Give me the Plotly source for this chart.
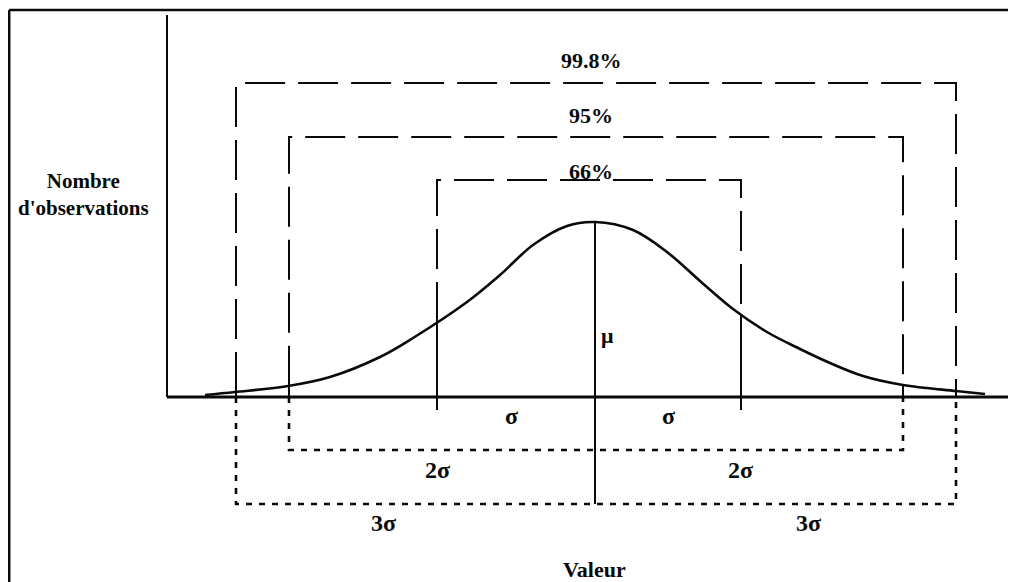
import numpy as np
import plotly.graph_objects as go

# ---- data (diagram units: x = value position, y = height above baseline) ----
curve_x = [205, 235, 288, 330, 380, 413, 467, 500, 533, 567, 595,
           633, 667, 700, 733, 767, 800, 830, 863, 903, 956, 985]
curve_y = [2, 5, 11, 20, 40, 59, 95, 122, 152, 171, 175,
           167, 145, 116, 88, 65, 48, 34, 21, 12, 6, 3]

mu = 595
bound_left = [437, 289, 236]      # μ-σ, μ-2σ, μ-3σ
bound_right = [741, 903, 956]     # μ+σ, μ+2σ, μ+3σ
pct_labels = ["66%", "95%", "99.8%"]
box_top = [217, 260, 314]         # height of the dashed boxes
lower_depth = [None, -53, -107]   # depth of the dotted brackets (2σ, 3σ)
sigma_labels = ["σ", "2σ", "3σ"]

x_label = "Valeur"
y_label = "Nombre<br>d'observations"

axis_start = 167
y_axis_top = 382
# the page puts the figure 8px from the top-left corner
x_range = [8, 1016]
y_range = [-185, 389]

FONT = "Liberation Serif"
INK = "#0a0a0a"

fig = go.Figure()

def seg(xs, ys, dash="solid", width=2.2):
    fig.add_trace(go.Scatter(x=xs, y=ys, mode="lines", hoverinfo="skip",
                             line=dict(color=INK, width=width, dash=dash),
                             showlegend=False))

def curve_h(x):
    return float(np.interp(x, curve_x, curve_y))

# axes of the diagram
seg([axis_start, x_range[1]], [0, 0], width=3)
seg([axis_start, axis_start], [0, y_axis_top], width=2)

# normal curve
fig.add_trace(go.Scatter(x=curve_x, y=curve_y, mode="lines", line_shape="spline",
                         line_smoothing=1.0, hoverinfo="skip", showlegend=False,
                         line=dict(color=INK, width=2.6)))

# dashed percentage boxes
for xl, xr, top in zip(bound_left, bound_right, box_top):
    seg([xl, xl, xr, xr], [curve_h(xl), top, top, curve_h(xr)], dash="40px,13px", width=2)

# σ lines (solid, from the curve to just under the axis)
for x in (bound_left[0], bound_right[0]):
    seg([x, x], [curve_h(x), -13], width=2)

# 2σ / 3σ: short solid part from the curve to the axis
for i in (1, 2):
    for x in (bound_left[i], bound_right[i]):
        seg([x, x], [curve_h(x), 0], width=2)

# dotted brackets below the axis
for i in (1, 2):
    xl, xr, d = bound_left[i], bound_right[i], lower_depth[i]
    seg([xl, xl, xr, xr], [0, d, d, 0], dash="6px,7px", width=2.6)

# μ line
seg([mu, mu], [max(curve_y), lower_depth[2]], width=2)

# ---- text ----
ann = []
label_offset = [9, 22, 23]
for lbl, top, off in zip(pct_labels, box_top, label_offset):
    ann.append(dict(x=mu - 4, y=top + off, text=f"<b>{lbl}</b>", size=22))

sig_pos = [((bound_left[0] + mu) / 2 - 5, (bound_right[0] + mu) / 2, -19),
           ((bound_left[1] + mu) / 2 - 5, (bound_right[1] + mu) / 2 - 9, -73),
           ((bound_left[2] + mu) / 2 - 32, (bound_right[2] + mu) / 2 + 33, -126)]
for lbl, (xl, xr, yy) in zip(sigma_labels, sig_pos):
    ann.append(dict(x=xl, y=yy, text=f"<b>{lbl}</b>", size=24))
    ann.append(dict(x=xr, y=yy, text=f"<b>{lbl}</b>", size=24))
ann.append(dict(x=mu + 12, y=62, text="<b>μ</b>", size=22))
ann.append(dict(x=mu - 1, y=-172, text=f"<b>{x_label}</b>", size=22))
ann.append(dict(x=83, y=203, text=f"<b>{y_label}</b>", size=21))

for a in ann:
    size = a.pop("size")
    a.update(xref="x", yref="y", showarrow=False,
             font=dict(family=FONT, size=size, color=INK))
    fig.add_annotation(**a)

# frame around the figure (left and top edges visible)
fig.add_shape(type="line", xref="paper", yref="paper", x0=0.0012, x1=1, y0=1 - 2/574, y1=1 - 2/574,
              line=dict(color=INK, width=2.5))
fig.add_shape(type="line", xref="paper", yref="paper", x0=0.0012, x1=0.0012, y0=0, y1=1 - 2/574,
              line=dict(color=INK, width=2.5))

fig.update_layout(
    width=1008, height=574,
    margin=dict(l=0, r=0, t=0, b=0),
    paper_bgcolor="white", plot_bgcolor="white",
    xaxis=dict(range=x_range, visible=False, fixedrange=True),
    yaxis=dict(range=y_range, visible=False, fixedrange=True),
    showlegend=False,
)

fig.write_html("out.html", config={"displayModeBar": False})
